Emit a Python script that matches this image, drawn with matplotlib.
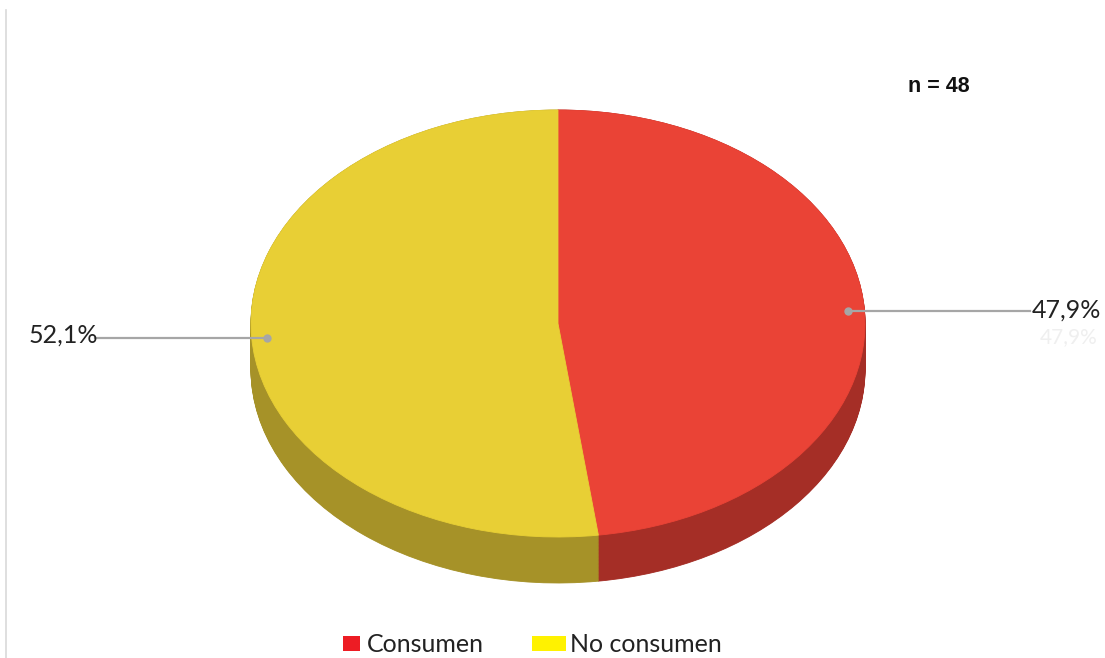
import matplotlib
matplotlib.use("Agg")
import matplotlib.pyplot as plt
from matplotlib.patches import Rectangle
import numpy as np

# Survey shares
categories = ["Consumen", "No consumen"]
shares = [47.9, 52.1]
labels = ["47,9%", "52,1%"]
sample_note = "n = 48"

top_colors = ["#EA4336", "#E8CF35"]
side_colors = ["#A52E26", "#A69228"]
legend_colors = ["#ED1C24", "#FFF200"]

W, H = 1105, 658
fig = plt.figure(figsize=(W / 100, H / 100), dpi=100)
ax = fig.add_axes([0, 0, 1, 1])

# pixel geometry of the tilted disc
cx, cy = 558, 323.5      # centre of top face (pixels, y down)
a, b = 307, 213.5        # semi-axes of the top face
depth = 46               # wall height in pixels

d_units = depth / b
# side wall: stack of darker pies pushed downward
for d in np.linspace(d_units, 0.0, 60):
    ax.pie(shares, colors=side_colors, startangle=90, counterclock=False,
           center=(0, -d), radius=1.0, frame=True,
           wedgeprops=dict(linewidth=0.6))
    for w, c in zip(ax.patches[-2:], side_colors):
        w.set_edgecolor(c)

# top face
wedges, _ = ax.pie(shares, colors=top_colors, startangle=90, counterclock=False,
                   center=(0, 0), radius=1.0, frame=True,
                   wedgeprops=dict(linewidth=0.6))
for w, c in zip(wedges, top_colors):
    w.set_edgecolor(c)

ax.set_xlim(-cx / a, (W - cx) / a)
ax.set_ylim(-(H - cy) / b, cy / b)
ax.set_aspect("auto")
ax.axis("off")

def px(x, y):
    return ((x - cx) / a, (cy - y) / b)

lab_font = dict(family="Lato", fontsize=18, color="#222222")

# leader lines and value labels
cons_dot = px(848, 311)
cons_end = px(1030, 311)
ax.plot([cons_dot[0], cons_end[0]], [cons_dot[1], cons_end[1]],
        color="#A6A6A6", lw=1.6, zorder=10)
ax.plot(*cons_dot, "o", color="#A6A6A6", ms=5, zorder=11)
# faint shadow copy of the label
ax.text(*px(1040, 337), labels[0], ha="left", va="center",
        family="Lato", fontsize=15, color="#EFEFEF", zorder=9)
ax.text(*px(1032, 310), labels[0], ha="left", va="center", zorder=12, **lab_font)

no_dot = px(267, 338)
no_end = px(95, 338)
ax.plot([no_dot[0], no_end[0]], [no_dot[1], no_end[1]],
        color="#A6A6A6", lw=1.6, zorder=10)
ax.plot(*no_dot, "o", color="#A6A6A6", ms=5, zorder=11)
ax.text(*px(98, 335), labels[1], ha="right", va="center", zorder=12, **lab_font)

ax.text(*px(939, 87), sample_note, ha="center", va="center",
        family="Liberation Sans", fontweight="bold", fontsize=15.5, color="#111111")

# left border
ax.plot([px(6, 10)[0], px(6, 658)[0]], [px(6, 10)[1], px(6, 658)[1]],
        color="#D9D9D9", lw=1.2)

# legend
leg_items = [(343, 17, 367), (532, 34, 570)]
for (x0, wpx, tx), col, name in zip(leg_items, legend_colors, categories):
    r = Rectangle(px(x0, 651), wpx / a, 15 / b, facecolor=col, edgecolor="none")
    ax.add_patch(r)
    ax.text(*px(tx, 645), name, ha="left", va="center",
            family="Lato", fontsize=18, color="#222222")

fig.savefig("out.png", dpi=100)
